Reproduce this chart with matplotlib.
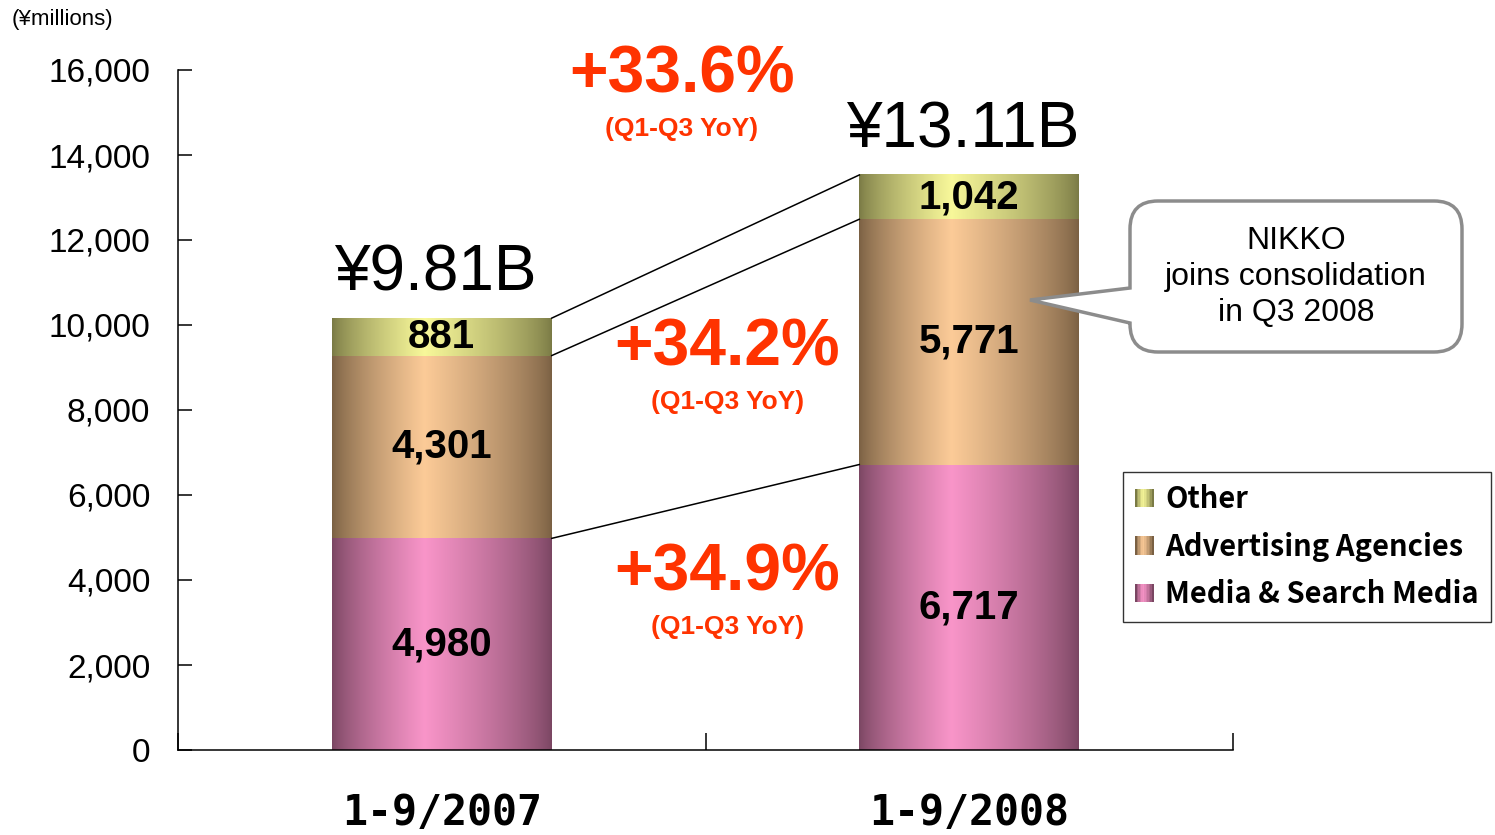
import matplotlib
matplotlib.use('Agg')
import matplotlib.pyplot as plt
import numpy as np
from matplotlib.patches import Rectangle, PathPatch, Patch
from matplotlib.path import Path
from matplotlib.legend_handler import HandlerBase
from matplotlib.colors import to_rgb

# ---------------- data ----------------
categories = ['1-9/2007', '1-9/2008']
media = [4980, 6717]
agencies = [4301, 5771]
other = [881, 1042]
totals_text = ['¥9.81B', '¥13.11B']
series_names = ['Media & Search Media', 'Advertising Agencies', 'Other']
yoy_total = '+33.6%'
yoy_agencies = '+34.2%'
yoy_media = '+34.9%'
yoy_note = '(Q1-Q3 YoY)'
yticks = list(range(0, 16001, 2000))
unit_label = '(¥millions)'
callout_text = 'NIKKO\njoins consolidation\nin Q3 2008'

# ---------------- styles ----------------
W, H = 1495, 835
LIGHT = {'media': '#F995C9', 'agencies': '#FCCB98', 'other': '#F8F89A'}
DARK = {'media': '#7A4662', 'agencies': '#7A6043', 'other': '#7A7A45'}
RED = '#FF3300'
SANS = ['Liberation Sans', 'DejaVu Sans']
GOTHIC = ['DejaVu Sans Mono']


def gradient(key, n=200):
    t = np.linspace(0, 1, n)
    f = np.interp(t, [0, 0.42, 1], [0.0, 1.0, 0.0]) ** 0.75
    lo = np.array(to_rgb(DARK[key]))
    hi = np.array(to_rgb(LIGHT[key]))
    return lo[None, :] * (1 - f[:, None]) + hi[None, :] * f[:, None]


fig = plt.figure(figsize=(W / 100, H / 100), dpi=100)
ax = fig.add_axes([178 / W, 1 - 750 / H, (1233 - 178) / W, (750 - 70) / H])

x = np.arange(len(categories))
width = 0.417
media_a = np.array(media)
agencies_a = np.array(agencies)
other_a = np.array(other)

layers = [('media', media_a, np.zeros(2)),
          ('agencies', agencies_a, media_a),
          ('other', other_a, media_a + agencies_a)]

for key, vals, bottoms in layers:
    bars = ax.bar(x, vals, width, bottom=bottoms, color='none', edgecolor='none')
    g = gradient(key)[None, :, :]
    for b, v, bt in zip(bars, vals, bottoms):
        x0, y0 = b.get_x(), b.get_y()
        ax.imshow(g, extent=(x0, x0 + b.get_width(), y0, y0 + b.get_height()),
                  aspect='auto', zorder=2, interpolation='bilinear')
        ax.text(b.get_x() + b.get_width() / 2, bt + v / 2, f'{v:,}',
                ha='center', va='center', fontsize=29, fontweight='bold',
                family=SANS, zorder=4)

# connector lines between bars
levels = [media_a, media_a + agencies_a, media_a + agencies_a + other_a]
for lv in levels:
    ax.plot([x[0] + width / 2, x[1] - width / 2], [lv[0], lv[1]],
            color='black', lw=1.1, zorder=3)

ax.set_xlim(-0.5, 1.5)
ax.set_ylim(0, 16000)
ax.set_yticks(yticks)
ax.set_yticklabels([f'{v:,}' for v in yticks], family=SANS, fontsize=24)
ax.set_xticks(x)
ax.set_xticklabels(categories, family=GOTHIC, fontsize=30, fontweight='bold')
ax.set_xticks([-0.5, 0.5, 1.5], minor=True)
ax.tick_params(axis='y', direction='in', length=10, width=1.1, pad=20)
ax.tick_params(axis='x', which='major', length=0, pad=30)
ax.tick_params(axis='x', which='minor', direction='in', length=12, width=1.1)
for s in ['top', 'right']:
    ax.spines[s].set_visible(False)
for s in ['left', 'bottom']:
    ax.spines[s].set_linewidth(1.1)

# totals
for xi, t, tot in zip(x, totals_text, levels[2]):
    ax.text(xi - 0.012, tot + 1040, t, ha='center', va='center', fontsize=46,
            family=SANS, zorder=5)

# YoY labels
ax.text(0.455, 15860, yoy_total, ha='center', va='center', fontsize=47.5,
        fontweight='bold', color=RED, family=SANS)
ax.text(0.455, 14620, yoy_note, ha='center', va='center', fontsize=19,
        fontweight='bold', color=RED, family=SANS)
ax.text(0.541, 9450, yoy_agencies, ha='center', va='center', fontsize=47.5,
        fontweight='bold', color=RED, family=SANS)
ax.text(0.541, 8200, yoy_note, ha='center', va='center', fontsize=19,
        fontweight='bold', color=RED, family=SANS)
ax.text(0.541, 4160, yoy_media, ha='center', va='center', fontsize=47.5,
        fontweight='bold', color=RED, family=SANS)
ax.text(0.541, 2890, yoy_note, ha='center', va='center', fontsize=19,
        fontweight='bold', color=RED, family=SANS)

fig.text(12 / W, 1 - 20 / H, unit_label, ha='left', va='center', fontsize=16,
         family=SANS)


# legend with gradient swatches
class GradHandler(HandlerBase):
    def __init__(self, key):
        super().__init__()
        self.key = key

    def create_artists(self, legend, orig_handle, xdescent, ydescent, width,
                       height, fontsize, trans):
        cols = gradient(self.key, 12)
        n = len(cols)
        arts = []
        for i, c in enumerate(cols):
            r = Rectangle((-xdescent + i * width / n, -ydescent), width / n + 0.3,
                          height, facecolor=c, edgecolor='none', transform=trans)
            arts.append(r)
        return arts


h_other = Patch(label='Other')
h_ag = Patch(label='Advertising Agencies')
h_med = Patch(label='Media & Search Media')
leg = fig.legend([h_other, h_ag, h_med],
                 ['Other', 'Advertising Agencies', 'Media & Search Media'],
                 handler_map={h_other: GradHandler('other'),
                              h_ag: GradHandler('agencies'),
                              h_med: GradHandler('media')},
                 loc='upper left', bbox_to_anchor=(1123 / W, 1 - 472 / H),
                 borderaxespad=0, fancybox=False, frameon=True,
                 prop={'family': ['Noto Sans CJK JP'], 'weight': 'bold', 'size': 21},
                 handlelength=0.62, handleheight=0.62, handletextpad=0.4,
                 labelspacing=0.6, borderpad=0.42)
leg.get_frame().set_edgecolor('black')
leg.get_frame().set_linewidth(1.0)

# callout bubble
L, R, T, B, rr = 1130, 1462, 201, 352, 28
tip = (1030, 300)
pt, pb = 288, 323


def fp(px, py):
    return (px / W, 1 - py / H)


verts = [fp(L + rr, T), fp(R - rr, T), fp(R, T), fp(R, T + rr), fp(R, B - rr),
         fp(R, B), fp(R - rr, B), fp(L + rr, B), fp(L, B), fp(L, B - rr),
         fp(L, pb), fp(*tip), fp(L, pt), fp(L, T + rr), fp(L, T), fp(L + rr, T),
         fp(L + rr, T)]
codes = [Path.MOVETO, Path.LINETO, Path.CURVE3, Path.CURVE3, Path.LINETO,
         Path.CURVE3, Path.CURVE3, Path.LINETO, Path.CURVE3, Path.CURVE3,
         Path.LINETO, Path.LINETO, Path.LINETO, Path.LINETO, Path.CURVE3,
         Path.CURVE3, Path.CLOSEPOLY]
bubble = PathPatch(Path(verts, codes), transform=fig.transFigure,
                   facecolor='white', edgecolor='#8C8C8C', lw=2.5, zorder=10)
fig.patches.append(bubble)
fig.text(1296 / W, 1 - 277 / H, callout_text, ha='center', va='center',
         fontsize=23, family=SANS, linespacing=1.25, zorder=11)

fig.savefig('out.png', dpi=100)
